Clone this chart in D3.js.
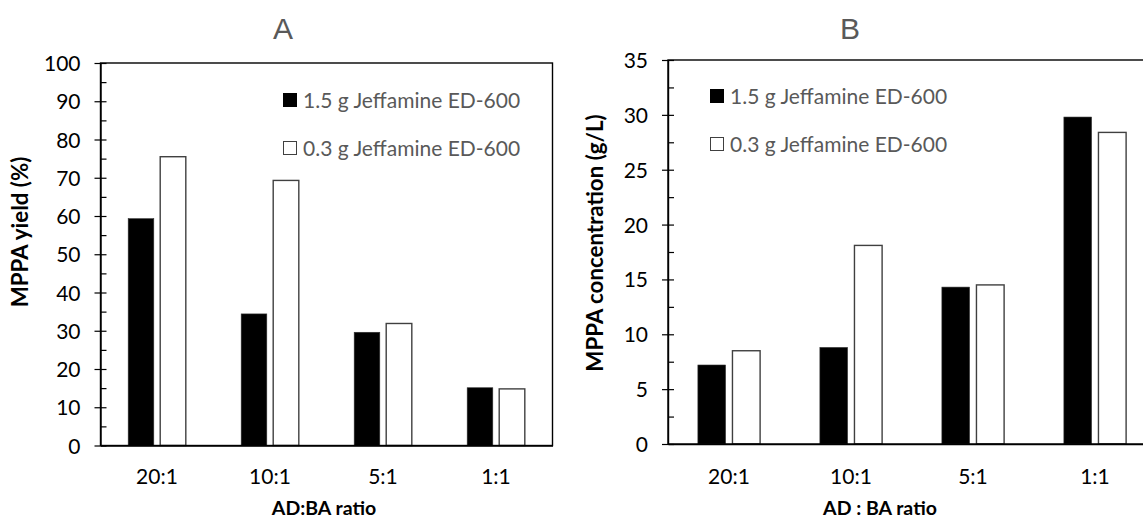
<!DOCTYPE html>
<html>
<head>
<meta charset="utf-8">
<script src="https://cdn.jsdelivr.net/npm/d3@7"></script>
<style>
  body { margin: 0; background: white; }
  svg { display: block; }
</style>
</head>
<body>
<div id="chart-area"></div>
<script>
// *********************
// Data
// *********************

const categories = ["20:1", "10:1", "5:1", "1:1"];
const seriesNames = ["1.5 g Jeffamine ED-600", "0.3 g Jeffamine ED-600"];

// Panel A: MPPA yield (%)
const yieldHigh = [59.3, 34.4, 29.6, 15.1];
const yieldLow = [75.5, 69.3, 31.9, 14.8];
const yieldTicks = [0, 10, 20, 30, 40, 50, 60, 70, 80, 90, 100];

// Panel B: MPPA concentration (g/L)
const concHigh = [7.2, 8.8, 14.3, 29.8];
const concLow = [8.5, 18.1, 14.5, 28.4];
const concTicks = [0, 5, 10, 15, 20, 25, 30, 35];

// *********************
// Basic setup SVG
// *********************

const width = 1143;
const height = 523;

const svg = d3.select("#chart-area")
	.append("svg")
	.attr("width", width)
	.attr("height", height);

svg.append("rect")
	.attr("width", "100%")
	.attr("height", "100%")
	.attr("fill", "white");

const fillColors = ["#000000", "#ffffff"];
const font = "Lato, 'Open Sans', sans-serif";

// *********************
// Panel drawing function
// *********************

function drawPanel(p) {
	const g = svg.append("g")
		.attr("transform", "translate(" + p.left + "," + p.top + ")");

	const rows = categories.map((c, i) => ({cat: c, values: [p.high[i], p.low[i]]}));

	// Scales
	const x0 = d3.scaleBand()
		.domain(categories)
		.range([0, p.w])
		.paddingInner(0.49)
		.paddingOuter(0.245);

	const x1 = d3.scaleBand()
		.domain([0, 1])
		.range([0, x0.bandwidth()])
		.paddingInner(0.2);

	const y = d3.scaleLinear()
		.domain([0, p.max])
		.range([p.h, 0]);

	// Minor ticks (inside)
	const minor = d3.range(p.minorStep, p.max, p.minorStep * 2);
	g.append("g")
		.call(d3.axisLeft(y).tickValues(minor).tickSize(-6).tickFormat(""))
		.call(a => a.select(".domain").remove())
		.selectAll("line").attr("stroke", "black").attr("stroke-width", 1.2);

	// Y axis with crossing major ticks
	const yAxisGroup = g.append("g")
		.attr("class", "y axis")
		.call(d3.axisLeft(y).tickValues(p.ticks).tickSizeInner(6).tickSizeOuter(0).tickPadding(14));
	yAxisGroup.selectAll(".tick line")
		.attr("x1", 6).attr("x2", -6)
		.attr("stroke", "black").attr("stroke-width", 1.2);
	yAxisGroup.select(".domain").attr("stroke", "black").attr("stroke-width", 1.4);
	yAxisGroup.selectAll("text")
		.attr("font-family", font)
		.attr("font-size", "21px")
		.attr("fill", "black")
		.attr("dy", "0.36em");

	// Bars
	const groups = g.selectAll(".cat")
		.data(rows)
		.enter().append("g")
		.attr("class", "cat")
		.attr("transform", d => "translate(" + x0(d.cat) + ",0)");

	groups.selectAll("rect")
		.data(d => d.values.map((v, i) => ({v: v, i: i})))
		.enter().append("rect")
		.attr("x", d => x1(d.i))
		.attr("y", d => y(d.v))
		.attr("width", x1.bandwidth())
		.attr("height", d => p.h - y(d.v))
		.attr("fill", d => fillColors[d.i])
		.attr("stroke", d => d.i === 0 ? "#303030" : "#404040")
		.attr("stroke-width", d => d.i === 0 ? 0.6 : 1.4);

	// Plot frame (top and right)
	g.append("rect")
		.attr("width", p.w)
		.attr("height", p.h)
		.attr("fill", "none")
		.attr("stroke", "black")
		.attr("stroke-width", 1.4);

	// X axis
	const xAxisGroup = g.append("g")
		.attr("class", "x axis")
		.attr("transform", "translate(0," + p.h + ")")
		.call(d3.axisBottom(x0).tickSize(0).tickSizeOuter(0));
	xAxisGroup.select(".domain").attr("stroke", "black").attr("stroke-width", 1.4);
	xAxisGroup.selectAll("text")
		.attr("dy", null)
		.attr("y", 484 - (p.top + p.h))
		.attr("font-family", font)
		.attr("font-size", "21px")
		.attr("fill", "black");

	// X axis label
	svg.append("text")
		.attr("x", p.xLabelX)
		.attr("y", 515)
		.attr("font-family", font)
		.attr("font-size", "19.5px")
		.attr("font-weight", "bold")
		.attr("text-anchor", "middle")
		.attr("fill", "black")
		.text(p.xLabel);

	// Y axis label
	svg.append("text")
		.attr("transform", "translate(" + p.yLabelX + "," + p.yLabelY + ") rotate(-90)")
		.attr("dominant-baseline", "central")
		.attr("font-family", font)
		.attr("font-size", "22.3px")
		.attr("font-weight", "bold")
		.attr("text-anchor", "middle")
		.attr("fill", "black")
		.text(p.yLabel);

	// Panel title
	svg.append("text")
		.attr("x", p.titleX)
		.attr("y", 39)
		.attr("font-family", "'Liberation Sans', Arial, sans-serif")
		.attr("font-size", "30px")
		.attr("text-anchor", "middle")
		.attr("fill", "#595959")
		.text(p.title);

	// Legend
	const legend = svg.append("g")
		.attr("transform", "translate(" + p.legX + "," + p.legY + ")");

	seriesNames.forEach((name, i) => {
		const row = legend.append("g")
			.attr("transform", "translate(0," + (i * 48) + ")");
		row.append("rect")
			.attr("x", 0.5)
			.attr("y", -6.5)
			.attr("width", 13)
			.attr("height", 13)
			.attr("fill", fillColors[i])
			.attr("stroke", i === 0 ? "black" : "#404040")
			.attr("stroke-width", 1);
		row.append("text")
			.attr("x", 20)
			.attr("y", 0)
			.attr("dy", "0.36em")
			.attr("font-family", font)
			.attr("font-size", "21px")
			.attr("fill", "#595959")
			.text(name);
	});
}

// *********************
// Panels
// *********************

drawPanel({
	left: 100.5, top: 63, w: 452, h: 382.5,
	high: yieldHigh, low: yieldLow,
	max: 100, ticks: yieldTicks, minorStep: 5,
	title: "A", titleX: 283,
	xLabel: "AD:BA ratio", xLabelX: 324,
	yLabel: "MPPA yield (%)", yLabelX: 19, yLabelY: 232,
	legX: 283, legY: 100
});

drawPanel({
	left: 668, top: 60, w: 488, h: 384,
	high: concHigh, low: concLow,
	max: 35, ticks: concTicks, minorStep: 2.5,
	title: "B", titleX: 850,
	xLabel: "AD : BA ratio", xLabelX: 880,
	yLabel: "MPPA concentration (g/L)", yLabelX: 594, yLabelY: 243,
	legX: 710, legY: 96
});
</script>
</body>
</html>
